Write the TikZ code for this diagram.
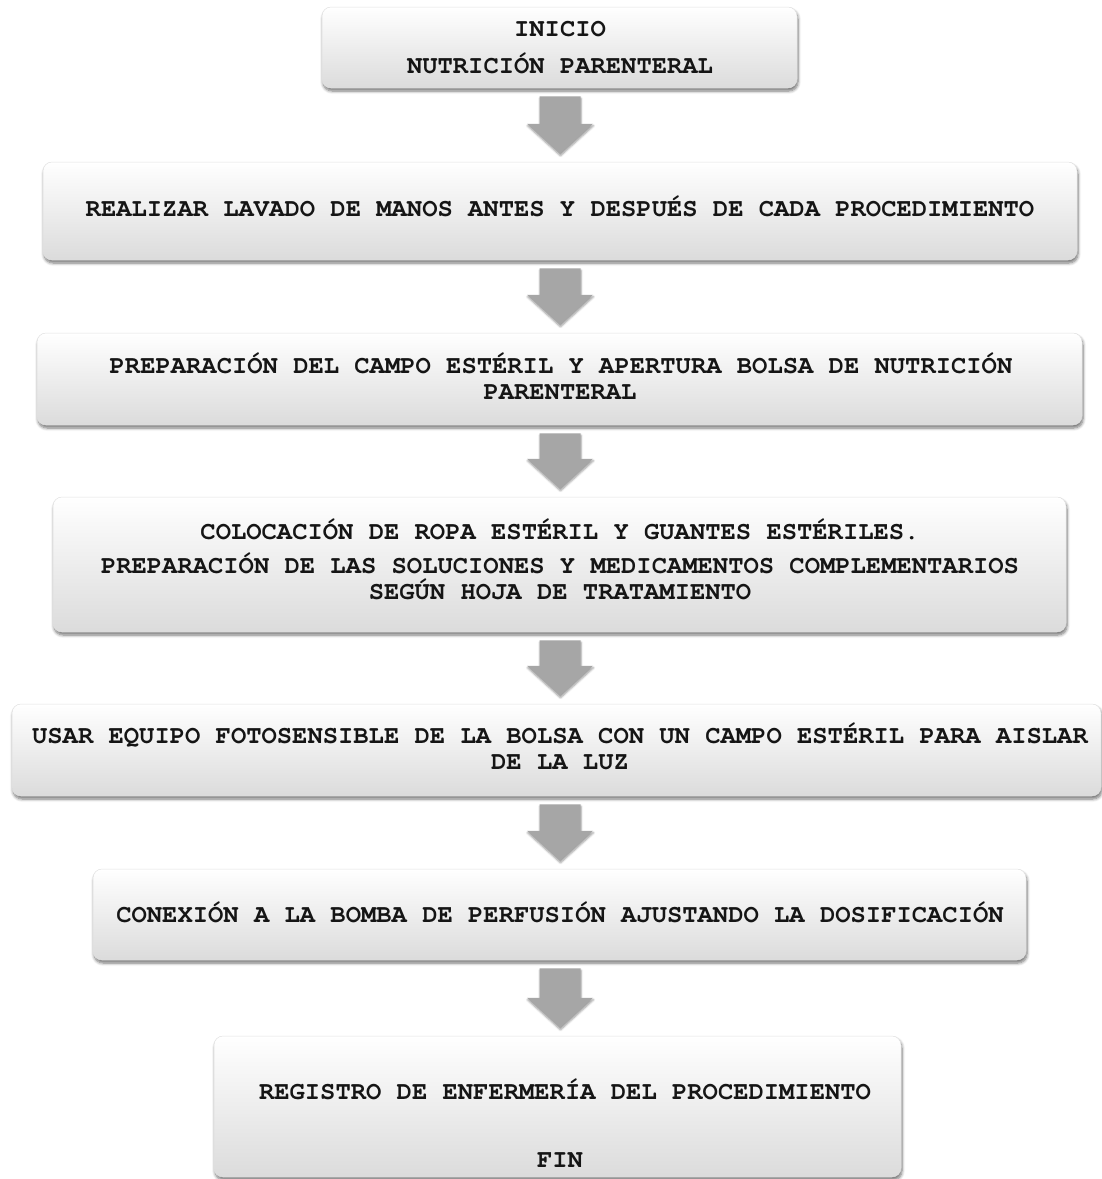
\documentclass[tikz,border=0pt]{standalone}
\usepackage{fontspec}
\newfontfamily\courb{texgyrecursor-bold.otf}
\usetikzlibrary{calc,shadows.blur}
\definecolor{arrowgray}{HTML}{A6A6A6}
\definecolor{txt}{HTML}{151515}
\tikzset{
  stepbox/.style={rectangle, rounded corners=9pt, draw=black!12, line width=0.5pt,
    top color=white, middle color=white, bottom color=black!14,
    inner sep=0pt,
    blur shadow={shadow xshift=1pt, shadow yshift=-3pt, shadow blur radius=3pt, shadow blur steps=6, shadow opacity=55}},
  steptext/.style={anchor=base, inner sep=0pt, text=txt, font=\courb\fontsize{25.5}{26}\selectfont},
  blockarrow/.style={fill=arrowgray,
    blur shadow={shadow xshift=0.5pt, shadow yshift=-2pt, shadow blur radius=2pt, shadow blur steps=5, shadow opacity=40}}
}
\newcommand\blkarrow[2]{%
  \path[blockarrow] let \p1=(#1.south), \p2=(#2.north) in
    (560pt-20.5pt,\y1-8pt) -- (560pt+20.5pt,\y1-8pt) -- (560pt+20.5pt,\y2+38pt)
    -- (560pt+33pt,\y2+38pt) -- (560pt,\y2+8pt) -- (560pt-33pt,\y2+38pt)
    -- (560pt-20.5pt,\y2+38pt) -- cycle;}
\begin{document}
\begin{tikzpicture}[x=1pt,y=-1pt]
\useasboundingbox (0,0) rectangle (1102,1179);
% boxes
\node[stepbox, minimum width=475pt, minimum height=81pt] (b1) at (559.5,47.5) {};
\node[stepbox, minimum width=1034pt, minimum height=98pt] (b2) at (560,211) {};
\node[stepbox, minimum width=1045pt, minimum height=92pt] (b3) at (559.5,379) {};
\node[stepbox, minimum width=1013pt, minimum height=135pt] (b4) at (559.5,564.5) {};
\node[stepbox, minimum width=1089pt, minimum height=92pt] (b5) at (556.5,750) {};
\node[stepbox, minimum width=933pt, minimum height=91pt] (b6) at (559.5,914.5) {};
\node[stepbox, minimum width=687pt, minimum height=141pt] (b7) at (557.5,1106.5) {};
% arrows
\blkarrow{b1}{b2}
\blkarrow{b2}{b3}
\blkarrow{b3}{b4}
\blkarrow{b4}{b5}
\blkarrow{b5}{b6}
\blkarrow{b6}{b7}
% texts
\node[steptext] (t1a) at (560,36) {INICIO};
\node[steptext] (t1b) at (560,73) {NUTRICIÓN PARENTERAL};
\node[steptext] (t2a) at (560,216) {REALIZAR LAVADO DE MANOS ANTES Y DESPUÉS DE CADA PROCEDIMIENTO};
\node[steptext] (t3a) at (561,373) {PREPARACIÓN DEL CAMPO ESTÉRIL Y APERTURA BOLSA DE NUTRICIÓN};
\node[steptext] (t3b) at (560,399) {PARENTERAL};
\node[steptext] (t4a) at (560,539) {COLOCACIÓN DE ROPA ESTÉRIL Y GUANTES ESTÉRILES.};
\node[steptext] (t4b) at (560,573) {PREPARACIÓN DE LAS SOLUCIONES Y MEDICAMENTOS COMPLEMENTARIOS};
\node[steptext] (t4c) at (560,599) {SEGÚN HOJA DE TRATAMIENTO};
\node[steptext] (t5a) at (560,743) {USAR EQUIPO FOTOSENSIBLE DE LA BOLSA CON UN CAMPO ESTÉRIL PARA AISLAR};
\node[steptext] (t5b) at (560,769) {DE LA LUZ};
\node[steptext] (t6a) at (560,922) {CONEXIÓN A LA BOMBA DE PERFUSIÓN AJUSTANDO LA DOSIFICACIÓN};
\node[steptext] (t7a) at (565,1099) {REGISTRO DE ENFERMERÍA DEL PROCEDIMIENTO};
\node[steptext] (t7b) at (560,1167) {FIN};
\end{tikzpicture}
\end{document}
